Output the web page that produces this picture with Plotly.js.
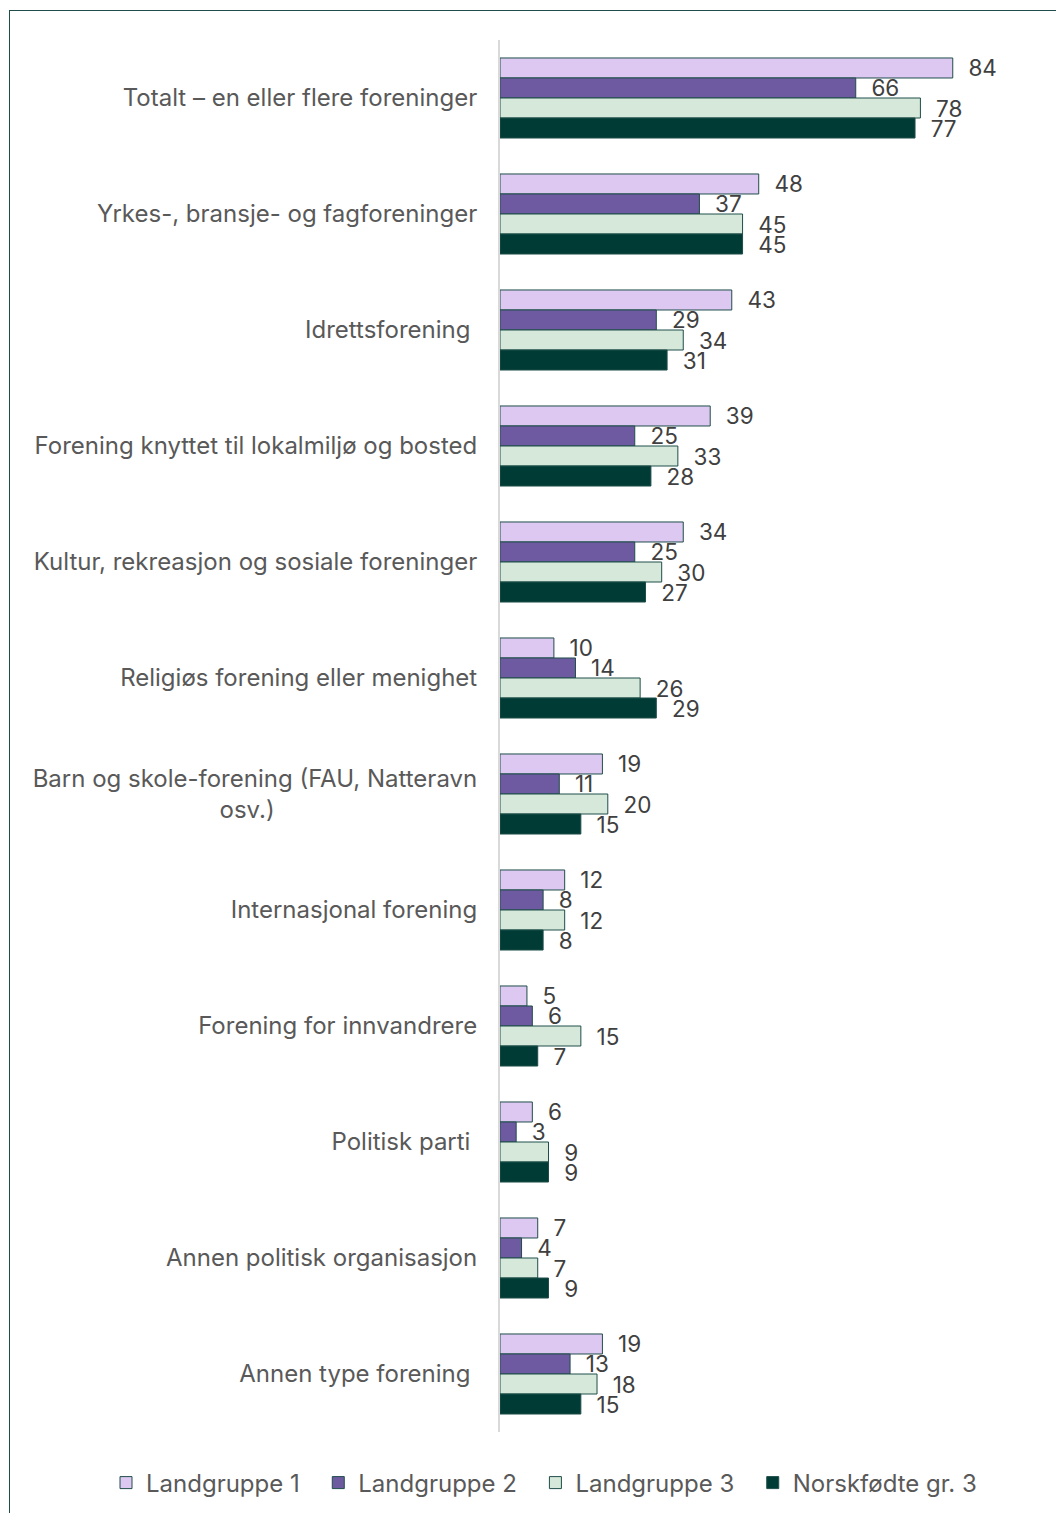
<!DOCTYPE html>
<html><head><meta charset="utf-8">
<script src="https://cdn.plot.ly/plotly-3.0.1.min.js"></script>
<style>
html,body{margin:0;padding:0;background:#fff;}
#frame{position:absolute;left:9px;top:10px;width:1100px;height:1600px;border-left:1px solid #1F4E4A;border-top:1px solid #1F4E4A;pointer-events:none;z-index:5;}
#chart{position:absolute;left:0;top:0;width:1056px;height:1513px;}
</style></head>
<body>
<div id="chart"></div>
<div id="frame"></div>
<script>
const pad = '\u00a0'.repeat(30);
const categories = [
  'Totalt – en eller flere foreninger',
  'Yrkes-, bransje- og fagforeninger',
  'Idrettsforening\u00a0',
  'Forening knyttet til lokalmiljø og bosted',
  'Kultur, rekreasjon og sosiale foreninger',
  'Religiøs forening eller menighet',
  'Barn og skole-forening (FAU, Natteravn<br>osv.)' + pad,
  'Internasjonal forening',
  'Forening for innvandrere',
  'Politisk parti\u00a0',
  'Annen politisk organisasjon',
  'Annen type forening\u00a0'
];
const seriesNames = ['Landgruppe 1', 'Landgruppe 2', 'Landgruppe 3', 'Norskfødte gr. 3'];
const landgruppe1 = [84, 48, 43, 39, 34, 10, 19, 12, 5, 6, 7, 19];
const landgruppe2 = [66, 37, 29, 25, 25, 14, 11, 8, 6, 3, 4, 13];
const landgruppe3 = [78, 45, 34, 33, 30, 26, 20, 12, 15, 9, 7, 18];
const norskfodte = [77, 45, 31, 28, 27, 29, 15, 8, 7, 9, 9, 15];
const colors = ['#DCC8F0', '#6E5AA0', '#D5E8D9', '#003B35'];

const allSeries = [landgruppe1, landgruppe2, landgruppe3, norskfodte];
const traces = allSeries.map((vals, i) => ({
  type: 'bar',
  orientation: 'h',
  name: seriesNames[i] + (i < 3 ? '\u00a0\u00a0' : ''),
  y: categories,
  x: vals,
  text: vals.map(v => String(v)),
  texttemplate: '\u00a0\u00a0%{text}',
  textposition: 'outside',
  cliponaxis: false,
  constraintext: 'none',
  textfont: {family: 'Inter, sans-serif', size: 22.5, color: '#404040'},
  marker: {color: colors[i], line: {color: '#1F4E4A', width: 1}},
  hoverinfo: 'skip'
}));

const layout = {
  width: 1056, height: 1513,
  margin: {l: 500, r: 17, t: 40, b: 81, autoexpand: false},
  paper_bgcolor: 'rgba(0,0,0,0)',
  plot_bgcolor: 'rgba(0,0,0,0)',
  barmode: 'group',
  bargap: 0.31,
  bargroupgap: 0,
  font: {family: 'Inter, sans-serif', size: 24, color: '#595959'},
  xaxis: {range: [0, 100], showgrid: false, zeroline: false, showticklabels: false, showline: false, fixedrange: true},
  yaxis: {autorange: 'reversed', showgrid: false, zeroline: false, showline: true, linecolor: '#D9D9D9', linewidth: 2,
          ticks: '', ticklabelstandoff: 16, tickfont: {family: 'Inter, sans-serif', size: 24, color: '#595959'}, fixedrange: true},
  showlegend: true,
  legend: {orientation: 'h', xref: 'paper', yref: 'paper', x: (106 - 500) / 539, xanchor: 'left', y: (1432 - 1483) / 1392, yanchor: 'middle',
           font: {family: 'Inter, sans-serif', size: 24, color: '#595959'}, itemwidth: 30, traceorder: 'normal'}
};
Plotly.newPlot('chart', traces, layout, {displayModeBar: false, staticPlot: true});
</script>
</body></html>
